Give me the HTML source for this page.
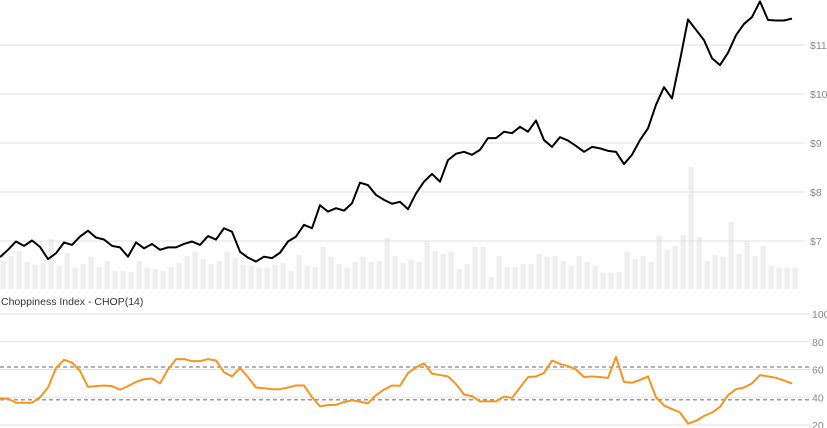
<!DOCTYPE html>
<html><head><meta charset="utf-8"><style>
html,body{margin:0;padding:0;background:#fff;width:827px;height:428px;overflow:hidden}
svg{display:block;font-family:"Liberation Sans",sans-serif}
</style></head><body>
<svg id="chart" width="827" height="428" viewBox="0 0 827 428"></svg>
<script>
const prices=[6.67,6.82,6.99,6.90,7.01,6.88,6.63,6.75,6.97,6.92,7.09,7.21,7.07,7.03,6.90,6.87,6.68,6.97,6.85,6.94,6.82,6.87,6.87,6.94,6.99,6.92,7.10,7.03,7.26,7.19,6.78,6.66,6.58,6.68,6.65,6.76,6.99,7.09,7.33,7.26,7.73,7.60,7.67,7.62,7.77,8.19,8.14,7.94,7.84,7.76,7.80,7.65,7.97,8.21,8.37,8.21,8.65,8.78,8.82,8.76,8.86,9.10,9.10,9.23,9.20,9.33,9.23,9.46,9.06,8.92,9.12,9.05,8.94,8.82,8.92,8.89,8.84,8.82,8.57,8.76,9.06,9.30,9.78,10.14,9.91,10.69,11.52,11.31,11.10,10.73,10.59,10.84,11.20,11.43,11.57,11.89,11.51,11.50,11.50,11.54];
const volumes=[28,33,38,27,24,26,50,23,36,21,25,32,22,28,18,18,17,28,21,20,18,22,26,33,37,30,25,28,37,31,24,23,21,21,24,26,18,34,23,22,42,32,25,21,27,32,27,28,51,33,26,29,27,48,38,35,37,20,25,42,42,12,33,22,22,25,25,35,32,33,28,23,33,27,23,16,16,17,37,30,33,27,53,39,43,54,122,52,28,34,32,67,35,48,33,43,23,21,21,21];
const chop=[39,39,36,36,36,40,47,61,67,65,59,47.5,48,48.5,48,45.5,48,51,53,53.5,50,60,67.5,67.5,66,66,67.5,66.5,58,55,61,54.5,47,46.5,45.8,45.8,47,48.5,48.5,40,33.5,34.3,34.5,36.5,37.8,36.8,35.6,41.5,45.5,48.5,48.3,57.5,61.5,64.5,57,56,55,49.5,42,40.8,37,37,37,40.5,39.5,47,54.5,55,57.5,66.5,64,62.5,60,54.5,55,54.5,54,69,51,50.5,52.5,55,40,34,31.5,29,21,23,26.5,29,33,41.5,45.8,47,50,56,55,54,52,50];
const priceTicks=[7,8,9,10,11];
const priceTickLabels=["$7","$8","$9","$10","$11"];
const chopTicks=[100,80,60,40,20];
const chopBands=[61.8,38.2];

const NS="http://www.w3.org/2000/svg";
const svg=document.getElementById('chart');
function mk(t,a){const e=document.createElementNS(NS,t);for(const k in a)e.setAttribute(k,a[k]);svg.appendChild(e);return e;}
const xS=i=>i*8;
const yP=p=>241-(p-7)*49;
const yV=v=>289-v;
const yC=v=>314+(100-v)*1.3875;

volumes.forEach((v,i)=>{
  const r=mk('rect',{x:xS(i)+0.5,y:yV(v),width:5.5,height:v,fill:'#eeeeee'});
  
  
});
priceTicks.forEach((t,i)=>{
  const l=mk('line',{x1:0,x2:805,y1:yP(t),y2:yP(t),stroke:'#e2e2e2','stroke-width':1});
  
  
  const tx=mk('text',{x:810,y:yP(t)+4,'font-size':10.5,fill:'#888'});
  tx.textContent=priceTickLabels[i];
  
  
});
const pl=mk('polyline',{points:prices.map((p,i)=>xS(i)+','+yP(p)).join(' '),fill:'none',stroke:'#000','stroke-width':2,'stroke-linejoin':'round'});



const tt=mk('text',{x:1,y:305,'font-size':10.5,fill:'#333'});
tt.textContent='Choppiness Index - CHOP(14)';


chopTicks.forEach(t=>{
  const l=mk('line',{x1:0,x2:810,y1:yC(t),y2:yC(t),stroke:'#e2e2e2','stroke-width':1});
  
  
  const tx=mk('text',{x:812,y:yC(t)+4,'font-size':10.5,fill:'#888'});
  tx.textContent=String(t);
  
  
});
chopBands.forEach(b=>{
  const l=mk('line',{x1:0,x2:810,y1:yC(b),y2:yC(b),stroke:'#999','stroke-width':1.5,'stroke-dasharray':'4,3'});
  
  
});
const cl=mk('polyline',{points:chop.map((v,i)=>xS(i)+','+yC(v)).join(' '),fill:'none',stroke:'#f7931e','stroke-width':2,'stroke-linejoin':'round'});


</script>
</body></html>
